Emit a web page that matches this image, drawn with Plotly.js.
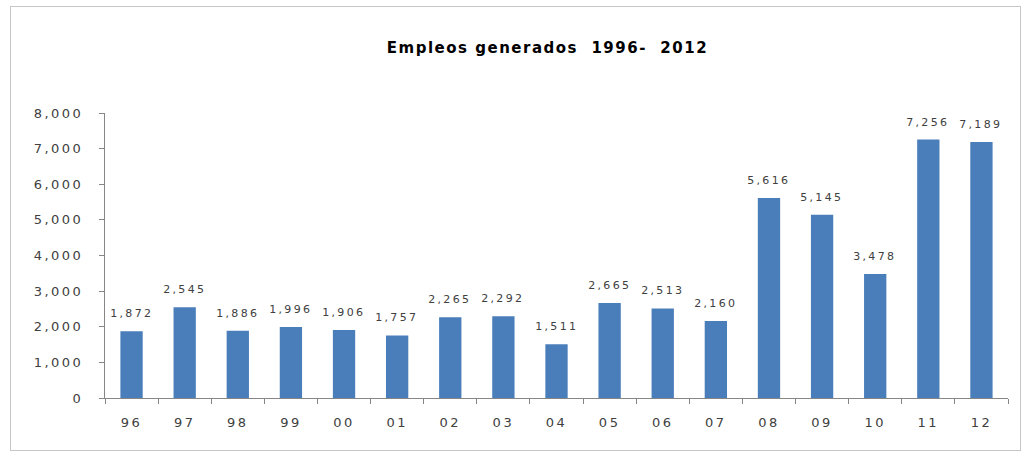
<!DOCTYPE html>
<html>
<head>
<meta charset="utf-8">
<script src="https://cdn.plot.ly/plotly-3.0.1.min.js"></script>
<style>
html,body{margin:0;padding:0;background:#fff;}
#frame{position:absolute;left:10px;top:6px;width:1011px;height:445px;border:1px solid #c6c6c6;box-sizing:border-box;pointer-events:none;}
#chart{position:absolute;left:0;top:0;width:1032px;height:457px;}
#chart .xtick text, #chart .ytick text{letter-spacing:2.5px;}
#chart .gtitle{letter-spacing:1.5px;}
#chart .annotation-text{letter-spacing:2.3px;}
</style>
</head>
<body>
<div id="chart"></div>
<div id="frame"></div>
<script>
const years = ["96","97","98","99","00","01","02","03","04","05","06","07","08","09","10","11","12"];
const empleos = [1872,2545,1886,1996,1906,1757,2265,2292,1511,2665,2513,2160,5616,5145,3478,7256,7189];
const yTicks = [0,1000,2000,3000,4000,5000,6000,7000,8000];

const trace = {
  type: 'bar',
  x: years,
  y: empleos,
  marker: {color: '#4a7ebb'},
  width: 0.42,
  hoverinfo: 'x+y'
};

// category axis: annotation x given as category index
const labels = years.map((yr, i) => ({
  x: i, y: empleos[i], xref: 'x', yref: 'y',
  text: empleos[i].toLocaleString('en-US'),
  showarrow: false, xanchor: 'center', yanchor: 'bottom', yshift: 9,
  font: {family: 'DejaVu Sans', size: 11, color: '#404040'}
}));

const layout = {
  width: 1032, height: 457,
  margin: {l: 105, r: 24, t: 113, b: 59},
  paper_bgcolor: '#ffffff',
  plot_bgcolor: '#ffffff',
  showlegend: false,
  annotations: labels,
  title: {
    text: '<b>Empleos generados  1996-  2012</b>',
    font: {family: 'DejaVu Sans', size: 15, color: '#000'},
    x: 0.49, xref: 'paper', xanchor: 'center',
    y: 0.895, yref: 'container', yanchor: 'middle'
  },
  xaxis: {
    type: 'category',
    categoryarray: years, categoryorder: 'array',
    range: [-0.5, years.length - 0.5],
    tickangle: 0,
    tickson: 'boundaries',
    ticks: 'outside', ticklen: 5, tickcolor: '#868686',
    showline: true, linecolor: '#868686', linewidth: 1,
    showgrid: false,
    tickfont: {family: 'DejaVu Sans', size: 13, color: '#404040'},
    ticklabelstandoff: 12
  },
  yaxis: {
    range: [0, 8000],
    tickvals: yTicks,
    tickformat: ',d',
    ticks: 'outside', ticklen: 5, tickcolor: '#868686',
    showline: true, linecolor: '#868686', linewidth: 1,
    showgrid: false, zeroline: false,
    tickfont: {family: 'DejaVu Sans', size: 13, color: '#404040'},
    ticklabelstandoff: 13
  }
};

Plotly.newPlot('chart', [trace], layout, {staticPlot: true, displayModeBar: false});
</script>
</body>
</html>
